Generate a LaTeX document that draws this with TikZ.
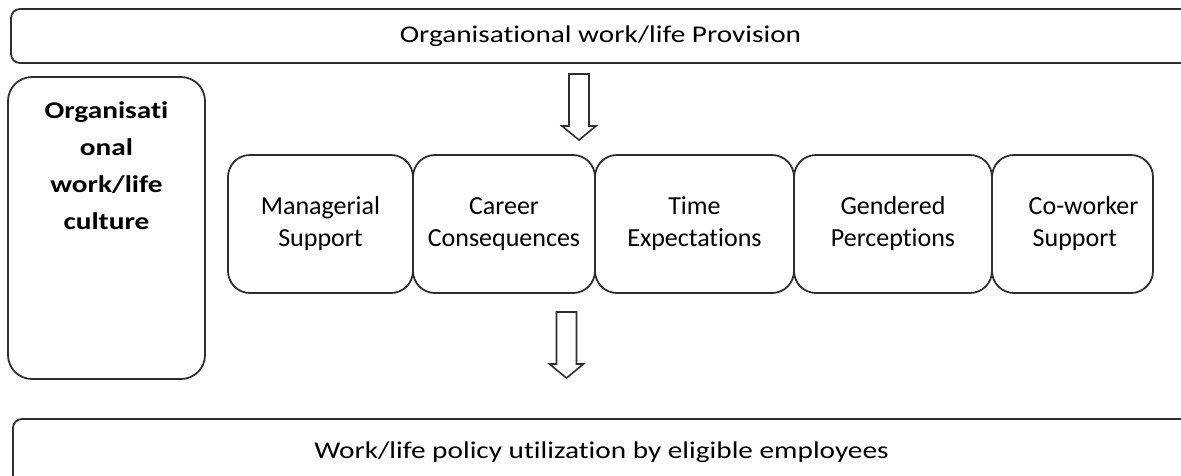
\documentclass[tikz,border=0pt]{standalone}
\usepackage{fontspec}
\setmainfont{Carlito}[Ligatures=NoCommon]
% slightly widened face for the two bars and the culture panel
\newfontfamily\widefont{Carlito}[FakeStretch=1.22, Ligatures=NoCommon]
\definecolor{inkline}{HTML}{2E2E2E}
\begin{document}
\begin{tikzpicture}[x=1pt,y=-1pt,
  outline/.style={draw=inkline, line width=1.8pt},
  bar/.style={outline, rounded corners=9pt, inner sep=0pt, minimum height=54pt,
    font=\widefont\fontsize{24}{30}\selectfont},
  factor/.style={outline, rounded corners=22pt, inner sep=0pt, minimum height=138pt,
    align=center, font=\fontsize{26}{32}\selectfont},
  culturebox/.style={outline, rounded corners=24pt, minimum width=197pt, minimum height=302pt},
  culturetext/.style={align=center, inner sep=0pt,
    font=\widefont\fontsize{24}{37}\selectfont\bfseries},
  downarrow/.pic={
    \draw[outline, line width=1.6pt, line join=miter]
      (-10,0) -- (10,0) -- (10,52) -- (17,52) -- (0,66) -- (-17,52) -- (-10,52) -- cycle;
  }
]
\useasboundingbox (0,0) rectangle (1181,475);

% provision bar across the top
\node[bar, minimum width=1179pt] (provision) at (600.5,36) {Organisational work/life Provision};

% culture panel on the left
\node[culturebox] (culture) at (106.5,228) {};
\node[culturetext, anchor=north] (culturelabel) at (106.5,101)
  {Organisati\\onal\\work/life\\culture};

% the five culture dimensions
\node[factor, minimum width=185pt] (managerial) at (320.5,224) {Managerial\\Support};
\node[factor, minimum width=182pt] (career) at (504,224) {Career\\Consequences};
\node[factor, minimum width=199pt] (time) at (694.5,224) {Time\\Expectations};
\node[factor, minimum width=198pt] (gendered) at (893,224) {Gendered\\Perceptions};
\node[factor, minimum width=161pt, align=left] (coworker) at (1072.5,224)
  {\hspace*{22pt}Co-worker\\\hspace*{26pt}Support};

% utilisation bar along the bottom
\node[bar, minimum width=1177pt, minimum height=66pt] (utilization) at (601.5,452)
  {Work/life policy utilization by eligible employees};

% block arrows between the tiers
\pic at (579,74) {downarrow};
\pic at (566.5,312) {downarrow};
\end{tikzpicture}
\end{document}
